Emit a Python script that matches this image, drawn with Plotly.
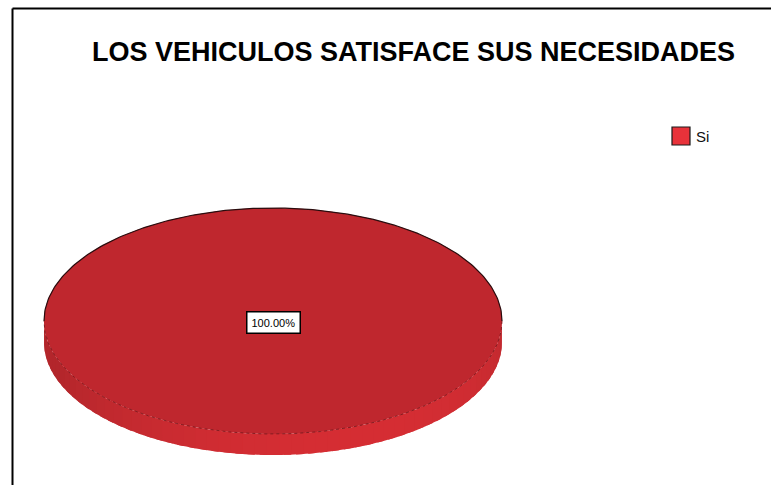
import numpy as np
import plotly.graph_objects as go

# Chart content
title_text = "LOS VEHICULOS SATISFACE SUS NECESIDADES"
categories = ["Si"]
values = [100.0]

# Styling
face_colors = ["#BF272E"]
side_colors = [(214, 46, 52)]
legend_colors = ["#E8323A"]

W, H = 771, 485
cx, cy = 273, 321          # centre of the top face (px units)
rx, ry = 229, 113          # ellipse radii
depth = 21                 # thickness of the disc

fig = go.Figure()
total = sum(values)


def ellipse_pts(t, dy=0.0):
    return cx + rx * np.cos(t), cy + ry * np.sin(t) + dy


# Slices: start at the top (-90deg in screen space), clockwise
start = -np.pi / 2
slices = []
for cat, v, fc, sc in zip(categories, values, face_colors, side_colors):
    frac = v / total
    t0, t1 = start, start + 2 * np.pi * frac
    slices.append((cat, v, frac, t0, t1, fc, sc))
    start = t1

# Side wall of the disc (front half only), shaded in thin overlapping strips
for cat, v, frac, t0, t1, fc, sc in slices:
    segs = []
    a0, a1 = max(t0, 0.0), min(t1, np.pi)
    if a1 > a0:
        segs.append((a0, a1))
    b0, b1 = max(t0, 2 * np.pi), min(t1, 3 * np.pi)
    if b1 > b0:
        segs.append((b0, b1))
    for s0, s1 in segs:
        n = max(2, int(60 * (s1 - s0) / np.pi))
        edges = np.linspace(s0, s1, n + 1)
        step = edges[1] - edges[0]
        for i in range(n):
            e0 = edges[i]
            e1 = min(s1, edges[i + 1] + 0.6 * step)
            ts = np.linspace(e0, e1, 5)
            xt, yt = ellipse_pts(ts)
            xb, yb = ellipse_pts(ts[::-1], depth)
            tm = 0.5 * (edges[i] + edges[i + 1])
            f = 0.84 + 0.16 * max(0.0, np.cos(tm - 1.2))
            col = "rgb({},{},{})".format(*[int(min(255, c * f)) for c in sc])
            fig.add_trace(go.Scatter(
                x=np.concatenate([xt, xb]), y=np.concatenate([yt, yb]),
                fill="toself", fillcolor=col, mode="none",
                hoverinfo="skip", showlegend=False))

# Top faces
for cat, v, frac, t0, t1, fc, sc in slices:
    ts = np.linspace(t0, t1, 361)
    xs, ys = ellipse_pts(ts)
    if frac < 1:
        xs = np.concatenate([[cx], xs, [cx]])
        ys = np.concatenate([[cy], ys, [cy]])
    fig.add_trace(go.Scatter(
        x=xs, y=ys, fill="toself", fillcolor=fc, mode="none",
        hoverinfo="skip", showlegend=False))

# Outline: dark on the back rim, softer dashed on the front rim
tb = np.linspace(np.pi, 2 * np.pi, 181)
xb, yb = ellipse_pts(tb)
fig.add_trace(go.Scatter(x=xb, y=yb, mode="lines",
                         line=dict(color="#2a0c0e", width=1.2),
                         hoverinfo="skip", showlegend=False))
tf = np.linspace(0, np.pi, 181)
xf, yf = ellipse_pts(tf)
fig.add_trace(go.Scatter(x=xf, y=yf, mode="lines",
                         line=dict(color="#861c21", width=1, dash="dot"),
                         hoverinfo="skip", showlegend=False))

# Percentage labels
annotations = []
for cat, v, frac, t0, t1, fc, sc in slices:
    if frac >= 1:
        lx, ly = cx, cy + 1
    else:
        tm = 0.5 * (t0 + t1)
        lx, ly = cx + 0.6 * rx * np.cos(tm), cy + 0.6 * ry * np.sin(tm)
    annotations.append(dict(
        x=lx, y=ly, xref="x", yref="y", text=f"{v / total * 100:.2f}%",
        showarrow=False, font=dict(family="Liberation Sans", size=11, color="#000"),
        bgcolor="#ffffff", bordercolor="#000000", borderwidth=1.5, borderpad=4))

# Legend drawn as square swatches with labels
lg_x, lg_y, lg_step = 681, 136, 24
for i, (cat, lc) in enumerate(zip(categories, legend_colors)):
    fig.add_trace(go.Scatter(
        x=[lg_x], y=[lg_y + i * lg_step], mode="markers",
        marker=dict(symbol="square", size=18, color=lc,
                    line=dict(color="#1a1a1a", width=1.2)),
        hoverinfo="skip", showlegend=False))
    annotations.append(dict(
        x=lg_x + 13, y=lg_y + i * lg_step, xref="x", yref="y", text=cat,
        showarrow=False, xanchor="left", yanchor="middle",
        font=dict(family="Liberation Sans", size=15, color="#111")))

# Title
annotations.append(dict(
    x=413.5, y=52, xref="x", yref="y", text=f"<b>{title_text}</b>", showarrow=False,
    xanchor="center", yanchor="middle",
    font=dict(family="Liberation Sans", size=27, color="#000")))

# Frame (left and top edges)
shapes = [
    dict(type="line", x0=12.5, x1=12.5, y0=8.5, y1=H + 5, xref="x", yref="y",
         line=dict(color="#000", width=2)),
    dict(type="line", x0=12.5, x1=W + 5, y0=8.5, y1=8.5, xref="x", yref="y",
         line=dict(color="#000", width=2)),
]

fig.update_layout(
    width=W, height=H, autosize=False,
    margin=dict(l=0, r=0, t=0, b=0),
    paper_bgcolor="#ffffff", plot_bgcolor="#ffffff",
    xaxis=dict(range=[0, W], visible=False, fixedrange=True),
    yaxis=dict(range=[H, 0], visible=False, fixedrange=True),
    annotations=annotations, shapes=shapes, showlegend=False,
)

fig.write_html("out.html")
